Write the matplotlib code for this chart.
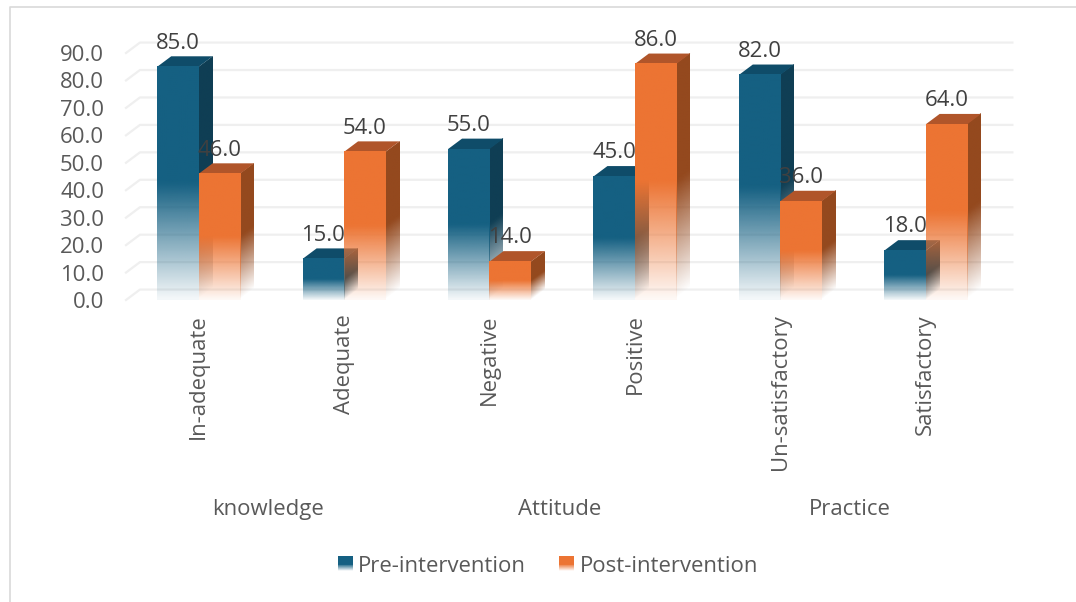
import numpy as np
import matplotlib
matplotlib.use("Agg")
import matplotlib.pyplot as plt
from matplotlib.colors import to_rgb
from matplotlib.legend_handler import HandlerBase
from matplotlib.lines import Line2D
from matplotlib.patches import Patch, Rectangle
from matplotlib.transforms import Affine2D

plt.rcParams['font.family'] = ['Open Sans', 'DejaVu Sans']

categories = ["In-adequate", "Adequate", "Negative", "Positive",
              "Un-satisfactory", "Satisfactory"]
groups = ["knowledge", "Attitude", "Practice"]
pre_values = [85, 15, 55, 45, 82, 18]
post_values = [46, 54, 14, 86, 36, 64]
y_ticks = [0, 10, 20, 30, 40, 50, 60, 70, 80, 90]

W, H = 1076, 602
BAR_W = 0.285
DEPTH_X = 0.096
DEPTH_Y = 3.8
TEXT = "#595959"
LABEL = "#404040"
FONT = 15.9

BLUE = {"front": "#156082", "side": "#0F3E54", "top": "#0F4C69"}
ORANGE = {"front": "#EC7433", "side": "#94491E", "top": "#B0552A"}


def fade(color, n=64, floor=0.05):
    # solid over the top half of the bar, fading out towards the floor
    rgba = np.ones((n, 1, 4))
    rgba[:, 0, :3] = to_rgb(color)
    t = np.linspace(0, 1, n)
    rgba[:, 0, 3] = np.clip(floor + (1 - floor) * t / 0.5, 0, 1)
    return rgba


def bar3d(ax, x0, v, style):
    ax.imshow(fade(style["side"], floor=0.0), origin="lower", aspect="auto",
              extent=(0, 1, 0, 1), interpolation="bilinear", clip_on=False,
              transform=Affine2D.from_values(DEPTH_X, DEPTH_Y, 0, v, x0 + BAR_W, 0)
              + ax.transData, zorder=3)
    ax.fill([x0, x0 + BAR_W, x0 + BAR_W + DEPTH_X, x0 + DEPTH_X],
            [v, v, v + DEPTH_Y, v + DEPTH_Y],
            color=style["top"], lw=0, clip_on=False, zorder=3)
    ax.imshow(fade(style["front"]), origin="lower", aspect="auto",
              extent=(x0, x0 + BAR_W, 0, v), interpolation="bilinear",
              clip_on=False, zorder=3)


class FadeHandler(HandlerBase):
    def create_artists(self, legend, orig, xd, yd, width, height, fontsize, trans):
        n = 14
        out = []
        for i, a in enumerate(fade(orig.get_facecolor()[:3], n=n)[:, 0, 3]):
            out.append(Rectangle((xd * -1, -yd + height * i / n), width, height / n + 0.2,
                                 facecolor=orig.get_facecolor()[:3], alpha=a,
                                 lw=0, transform=trans))
        return out


fig = plt.figure(figsize=(W / 100, H / 100), dpi=100)
ax = fig.add_axes([126 / W, 1 - 300 / H, 872.4 / W, 247 / H])

# outer frame, open on the right and at the bottom
fig.add_artist(Line2D([9.5 / W, 9.5 / W, 1], [0, 1 - 6.5 / H, 1 - 6.5 / H],
                      color="#D9D9D9", lw=1.2))

# back wall and left wall grid
for v in y_ticks:
    ax.plot([-0.5, -0.5 + DEPTH_X, 5.5 + DEPTH_X], [v, v + DEPTH_Y, v + DEPTH_Y],
            color="#EFEFEF", lw=1.6, clip_on=False, zorder=1)

for i in range(len(categories)):
    bar3d(ax, i - BAR_W, pre_values[i], BLUE)
    bar3d(ax, i, post_values[i], ORANGE)
    for x, v in ((i - BAR_W / 2, pre_values[i]), (i + BAR_W / 2, post_values[i])):
        ax.annotate(f"{v:.1f}", (x, v), xytext=(0, 17.0), textcoords="offset points",
                    ha="center", va="center", color=LABEL, fontsize=FONT, zorder=5)

ax.set_xlim(-0.5, 5.5)
ax.set_ylim(0, 90)
ax.set_yticks(y_ticks, [f"{v:.1f}" for v in y_ticks])
ax.set_xticks(range(len(categories)), categories, rotation=90)
ax.tick_params(axis="both", length=0, labelsize=FONT, labelcolor=TEXT)
ax.tick_params(axis="y", pad=15.8)
ax.tick_params(axis="x", pad=10.5)
for label in ax.get_yticklabels():
    label.set_verticalalignment("center_baseline")
for s in ax.spines.values():
    s.set_visible(False)
ax.patch.set_visible(False)

for j, name in enumerate(groups):
    ax.text(2 * j + 0.48, -76.4, name, ha="center", va="center",
            color=TEXT, fontsize=FONT)

handles = [Patch(facecolor=BLUE["front"], label="Pre-intervention"),
           Patch(facecolor=ORANGE["front"], label="Post-intervention")]
ax.legend(handles=handles, loc="center", ncol=2, frameon=False,
          bbox_to_anchor=(548 / W, 1 - 566 / H), bbox_transform=fig.transFigure,
          fontsize=FONT, labelcolor=TEXT, handlelength=0.68, handleheight=0.63,
          handletextpad=0.24, columnspacing=1.5,
          handler_map={Patch: FadeHandler()})

fig.savefig("out.png", dpi=100)
